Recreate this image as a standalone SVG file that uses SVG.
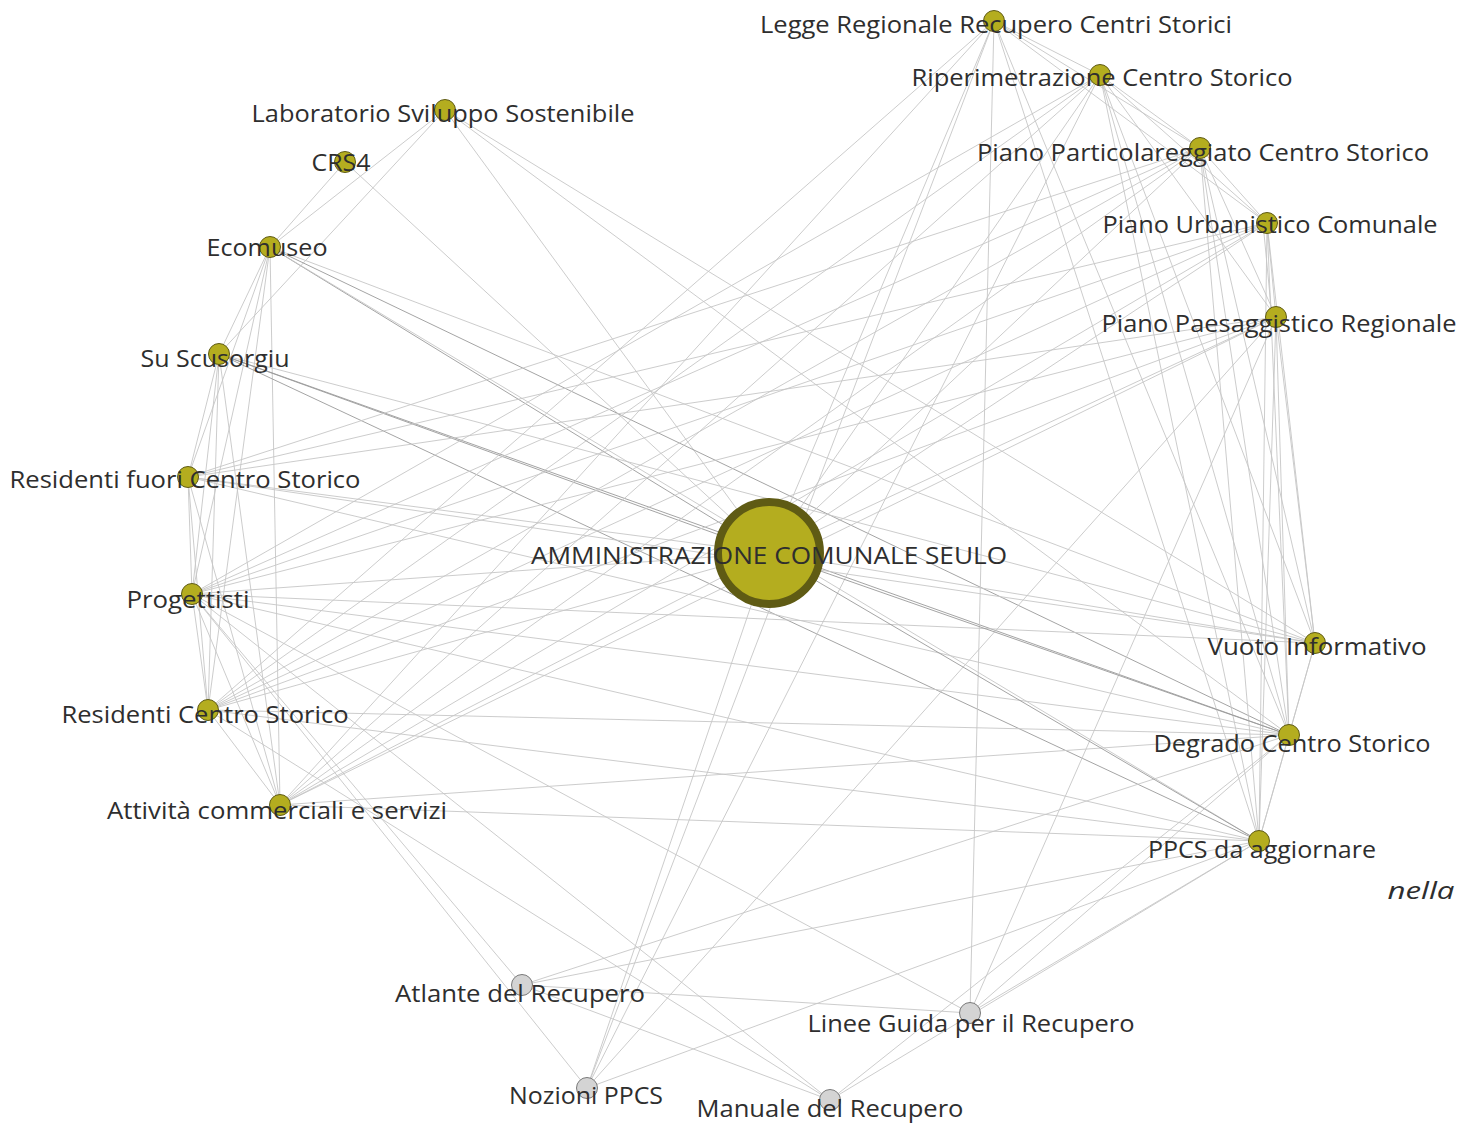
<svg xmlns="http://www.w3.org/2000/svg" width="1461" height="1123" viewBox="0 0 1461 1123">
<style>
.e{stroke:#c6c6c6;stroke-width:0.9;fill:none}
.k{stroke:#9a9a9a;stroke-width:0.9;fill:none}
.n{fill:#b4ad1f;stroke:#5f5b14;stroke-width:1}
.g{fill:#d4d4d4;stroke:#7a7a7a;stroke-width:1}
text{font-family:"Open Sans","Liberation Sans",sans-serif;font-size:23px;fill:#2e2e2e;text-anchor:middle}
</style>
<rect width="1461" height="1123" fill="#ffffff"/>
<g id="edges">
<line class="e" x1="445" y1="110" x2="270" y2="247"/>
<line class="e" x1="445" y1="110" x2="219" y2="354"/>
<line class="e" x1="345" y1="162" x2="270" y2="247"/>
<line class="e" x1="345" y1="162" x2="769" y2="553"/>
<line class="e" x1="445" y1="110" x2="769" y2="553"/>
<line class="e" x1="445" y1="110" x2="1289" y2="735"/>
<line class="e" x1="445" y1="110" x2="1315" y2="643"/>
<line class="e" x1="270" y1="247" x2="219" y2="354"/>
<line class="e" x1="270" y1="247" x2="188" y2="477"/>
<line class="e" x1="270" y1="247" x2="192" y2="594"/>
<line class="e" x1="270" y1="247" x2="208" y2="710"/>
<line class="e" x1="270" y1="247" x2="280" y2="805"/>
<line class="k" x1="270" y1="247" x2="769" y2="553"/>
<line class="k" x1="270" y1="247" x2="1289" y2="735"/>
<line class="e" x1="270" y1="247" x2="1259" y2="841"/>
<line class="e" x1="270" y1="247" x2="1315" y2="643"/>
<line class="e" x1="219" y1="354" x2="188" y2="477"/>
<line class="e" x1="219" y1="354" x2="192" y2="594"/>
<line class="e" x1="219" y1="354" x2="208" y2="710"/>
<line class="e" x1="219" y1="354" x2="280" y2="805"/>
<line class="k" x1="219" y1="354" x2="769" y2="553"/>
<line class="k" x1="219" y1="354" x2="1289" y2="735"/>
<line class="k" x1="219" y1="354" x2="1259" y2="841"/>
<line class="e" x1="219" y1="354" x2="1315" y2="643"/>
<line class="e" x1="188" y1="477" x2="192" y2="594"/>
<line class="e" x1="188" y1="477" x2="208" y2="710"/>
<line class="e" x1="188" y1="477" x2="280" y2="805"/>
<line class="e" x1="188" y1="477" x2="769" y2="553"/>
<line class="e" x1="188" y1="477" x2="1289" y2="735"/>
<line class="e" x1="188" y1="477" x2="1276" y2="317"/>
<line class="e" x1="188" y1="477" x2="1200" y2="148"/>
<line class="e" x1="188" y1="477" x2="1315" y2="643"/>
<line class="e" x1="192" y1="594" x2="208" y2="710"/>
<line class="e" x1="192" y1="594" x2="280" y2="805"/>
<line class="e" x1="192" y1="594" x2="769" y2="553"/>
<line class="e" x1="192" y1="594" x2="1315" y2="643"/>
<line class="e" x1="192" y1="594" x2="1289" y2="735"/>
<line class="e" x1="192" y1="594" x2="1259" y2="841"/>
<line class="e" x1="192" y1="594" x2="1267" y2="223"/>
<line class="e" x1="192" y1="594" x2="1200" y2="148"/>
<line class="e" x1="192" y1="594" x2="1276" y2="317"/>
<line class="e" x1="192" y1="594" x2="522" y2="985"/>
<line class="e" x1="192" y1="594" x2="587" y2="1088"/>
<line class="e" x1="192" y1="594" x2="830" y2="1100"/>
<line class="e" x1="192" y1="594" x2="970" y2="1013"/>
<line class="e" x1="208" y1="710" x2="280" y2="805"/>
<line class="e" x1="208" y1="710" x2="769" y2="553"/>
<line class="e" x1="208" y1="710" x2="1289" y2="735"/>
<line class="e" x1="208" y1="710" x2="1259" y2="841"/>
<line class="e" x1="208" y1="710" x2="1276" y2="317"/>
<line class="e" x1="208" y1="710" x2="1267" y2="223"/>
<line class="e" x1="208" y1="710" x2="1200" y2="148"/>
<line class="e" x1="208" y1="710" x2="1100" y2="75"/>
<line class="e" x1="208" y1="710" x2="994" y2="21"/>
<line class="e" x1="208" y1="710" x2="830" y2="1100"/>
<line class="e" x1="280" y1="805" x2="769" y2="553"/>
<line class="e" x1="280" y1="805" x2="1259" y2="841"/>
<line class="e" x1="280" y1="805" x2="1289" y2="735"/>
<line class="e" x1="280" y1="805" x2="1276" y2="317"/>
<line class="e" x1="280" y1="805" x2="1267" y2="223"/>
<line class="e" x1="280" y1="805" x2="1200" y2="148"/>
<line class="e" x1="280" y1="805" x2="1100" y2="75"/>
<line class="e" x1="280" y1="805" x2="994" y2="21"/>
<line class="e" x1="994" y1="21" x2="1100" y2="75"/>
<line class="e" x1="994" y1="21" x2="1200" y2="148"/>
<line class="e" x1="994" y1="21" x2="1267" y2="223"/>
<line class="e" x1="994" y1="21" x2="970" y2="1013"/>
<line class="e" x1="994" y1="21" x2="1289" y2="735"/>
<line class="e" x1="994" y1="21" x2="1259" y2="841"/>
<line class="e" x1="994" y1="21" x2="769" y2="553"/>
<line class="e" x1="1100" y1="75" x2="1200" y2="148"/>
<line class="e" x1="1100" y1="75" x2="1267" y2="223"/>
<line class="e" x1="1100" y1="75" x2="1276" y2="317"/>
<line class="e" x1="1100" y1="75" x2="1315" y2="643"/>
<line class="e" x1="1100" y1="75" x2="1289" y2="735"/>
<line class="e" x1="1100" y1="75" x2="1259" y2="841"/>
<line class="e" x1="1100" y1="75" x2="769" y2="553"/>
<line class="e" x1="1100" y1="75" x2="192" y2="594"/>
<line class="e" x1="1100" y1="75" x2="587" y2="1088"/>
<line class="e" x1="1200" y1="148" x2="1267" y2="223"/>
<line class="e" x1="1200" y1="148" x2="1276" y2="317"/>
<line class="e" x1="1200" y1="148" x2="1315" y2="643"/>
<line class="e" x1="1200" y1="148" x2="1289" y2="735"/>
<line class="e" x1="1200" y1="148" x2="1259" y2="841"/>
<line class="e" x1="1200" y1="148" x2="769" y2="553"/>
<line class="e" x1="1267" y1="223" x2="1276" y2="317"/>
<line class="e" x1="1263" y1="223" x2="1272" y2="317"/>
<line class="e" x1="1267" y1="223" x2="1315" y2="643"/>
<line class="e" x1="1267" y1="223" x2="1289" y2="735"/>
<line class="e" x1="1267" y1="223" x2="1259" y2="841"/>
<line class="e" x1="1267" y1="223" x2="769" y2="553"/>
<line class="e" x1="1267" y1="223" x2="188" y2="477"/>
<line class="e" x1="1276" y1="317" x2="1315" y2="643"/>
<line class="e" x1="1276" y1="317" x2="1289" y2="735"/>
<line class="e" x1="1276" y1="317" x2="1259" y2="841"/>
<line class="e" x1="1276" y1="317" x2="769" y2="553"/>
<line class="e" x1="1276" y1="317" x2="970" y2="1013"/>
<line class="e" x1="1276" y1="317" x2="587" y2="1088"/>
<line class="e" x1="1315" y1="643" x2="1289" y2="735"/>
<line class="e" x1="1315" y1="643" x2="1259" y2="841"/>
<line class="e" x1="1315" y1="643" x2="769" y2="553"/>
<line class="e" x1="1289" y1="735" x2="1259" y2="841"/>
<line class="k" x1="1289" y1="735" x2="769" y2="553"/>
<line class="e" x1="1289" y1="735" x2="522" y2="985"/>
<line class="e" x1="1289" y1="735" x2="830" y2="1100"/>
<line class="e" x1="1289" y1="735" x2="970" y2="1013"/>
<line class="k" x1="1259" y1="841" x2="769" y2="553"/>
<line class="e" x1="1259" y1="841" x2="522" y2="985"/>
<line class="e" x1="1259" y1="841" x2="587" y2="1088"/>
<line class="e" x1="1259" y1="841" x2="830" y2="1100"/>
<line class="e" x1="1259" y1="841" x2="970" y2="1013"/>
<line class="e" x1="522" y1="985" x2="970" y2="1013"/>
<line class="e" x1="522" y1="985" x2="830" y2="1100"/>
<line class="e" x1="587" y1="1088" x2="769" y2="553"/>
<line class="e" x1="587" y1="1088" x2="994" y2="21"/>
</g>
<g id="n-legge"><circle class="n" cx="994" cy="21" r="10.5"/><text x="996" y="33" textLength="472" lengthAdjust="spacingAndGlyphs">Legge Regionale Recupero Centri Storici</text></g>
<g id="n-riperimetrazione"><circle class="n" cx="1100" cy="75" r="10.5"/><text x="1102" y="86" textLength="381" lengthAdjust="spacingAndGlyphs">Riperimetrazione Centro Storico</text></g>
<g id="n-laboratorio"><circle class="n" cx="445" cy="110" r="10.5"/><text x="443" y="122" textLength="383" lengthAdjust="spacingAndGlyphs">Laboratorio Sviluppo Sostenibile</text></g>
<g id="n-crs4"><circle class="n" cx="345" cy="162" r="10.5"/><text x="341" y="171" textLength="59" lengthAdjust="spacingAndGlyphs">CRS4</text></g>
<g id="n-ppcs-piano"><circle class="n" cx="1200" cy="148" r="10.5"/><text x="1203" y="161" textLength="452" lengthAdjust="spacingAndGlyphs">Piano Particolareggiato Centro Storico</text></g>
<g id="n-puc"><circle class="n" cx="1267" cy="223" r="10.5"/><text x="1270" y="233" textLength="335" lengthAdjust="spacingAndGlyphs">Piano Urbanistico Comunale</text></g>
<g id="n-ecomuseo"><circle class="n" cx="270" cy="247" r="10.5"/><text x="267" y="256" textLength="121" lengthAdjust="spacingAndGlyphs">Ecomuseo</text></g>
<g id="n-ppr"><circle class="n" cx="1276" cy="317" r="10.5"/><text x="1279" y="332" textLength="355" lengthAdjust="spacingAndGlyphs">Piano Paesaggistico Regionale</text></g>
<g id="n-scusorgiu"><circle class="n" cx="219" cy="354" r="10.5"/><text x="215" y="367" textLength="149" lengthAdjust="spacingAndGlyphs">Su Scusorgiu</text></g>
<g id="n-residenti-fuori"><circle class="n" cx="188" cy="477" r="10.5"/><text x="185" y="488" textLength="351" lengthAdjust="spacingAndGlyphs">Residenti fuori Centro Storico</text></g>
<g id="n-amministrazione"><circle cx="769" cy="553" r="51" fill="#b4ad1f" stroke="#5f5b14" stroke-width="8"/><text x="769" y="564" textLength="476" lengthAdjust="spacingAndGlyphs">AMMINISTRAZIONE COMUNALE SEULO</text></g>
<g id="n-progettisti"><circle class="n" cx="192" cy="594" r="10.5"/><text x="188" y="608" textLength="123" lengthAdjust="spacingAndGlyphs">Progettisti</text></g>
<g id="n-vuoto"><circle class="n" cx="1315" cy="643" r="10.5"/><text x="1317" y="655" textLength="219" lengthAdjust="spacingAndGlyphs">Vuoto Informativo</text></g>
<g id="n-residenti-cs"><circle class="n" cx="208" cy="710" r="10.5"/><text x="205" y="723" textLength="287" lengthAdjust="spacingAndGlyphs">Residenti Centro Storico</text></g>
<g id="n-degrado"><circle class="n" cx="1289" cy="735" r="10.5"/><text x="1292" y="752" textLength="277" lengthAdjust="spacingAndGlyphs">Degrado Centro Storico</text></g>
<g id="n-attivita"><circle class="n" cx="280" cy="805" r="10.5"/><text x="277" y="819" textLength="340" lengthAdjust="spacingAndGlyphs">Attività commerciali e servizi</text></g>
<g id="n-ppcs-agg"><circle class="n" cx="1259" cy="841" r="10.5"/><text x="1262" y="858" textLength="228" lengthAdjust="spacingAndGlyphs">PPCS da aggiornare</text></g>
<g id="n-atlante"><circle class="g" cx="522" cy="985" r="10.5"/><text x="520" y="1002" textLength="250" lengthAdjust="spacingAndGlyphs">Atlante del Recupero</text></g>
<g id="n-linee"><circle class="g" cx="970" cy="1013" r="10.5"/><text x="971" y="1032" textLength="327" lengthAdjust="spacingAndGlyphs">Linee Guida per il Recupero</text></g>
<g id="n-nozioni"><circle class="g" cx="587" cy="1088" r="10.5"/><text x="586" y="1104" textLength="154" lengthAdjust="spacingAndGlyphs">Nozioni PPCS</text></g>
<g id="n-manuale"><circle class="g" cx="830" cy="1100" r="10.5"/><text x="830" y="1117" textLength="267" lengthAdjust="spacingAndGlyphs">Manuale del Recupero</text></g>
<text x="1421" y="899" font-style="italic" font-size="24" textLength="67" lengthAdjust="spacingAndGlyphs" fill="#111">nella</text>
</svg>
